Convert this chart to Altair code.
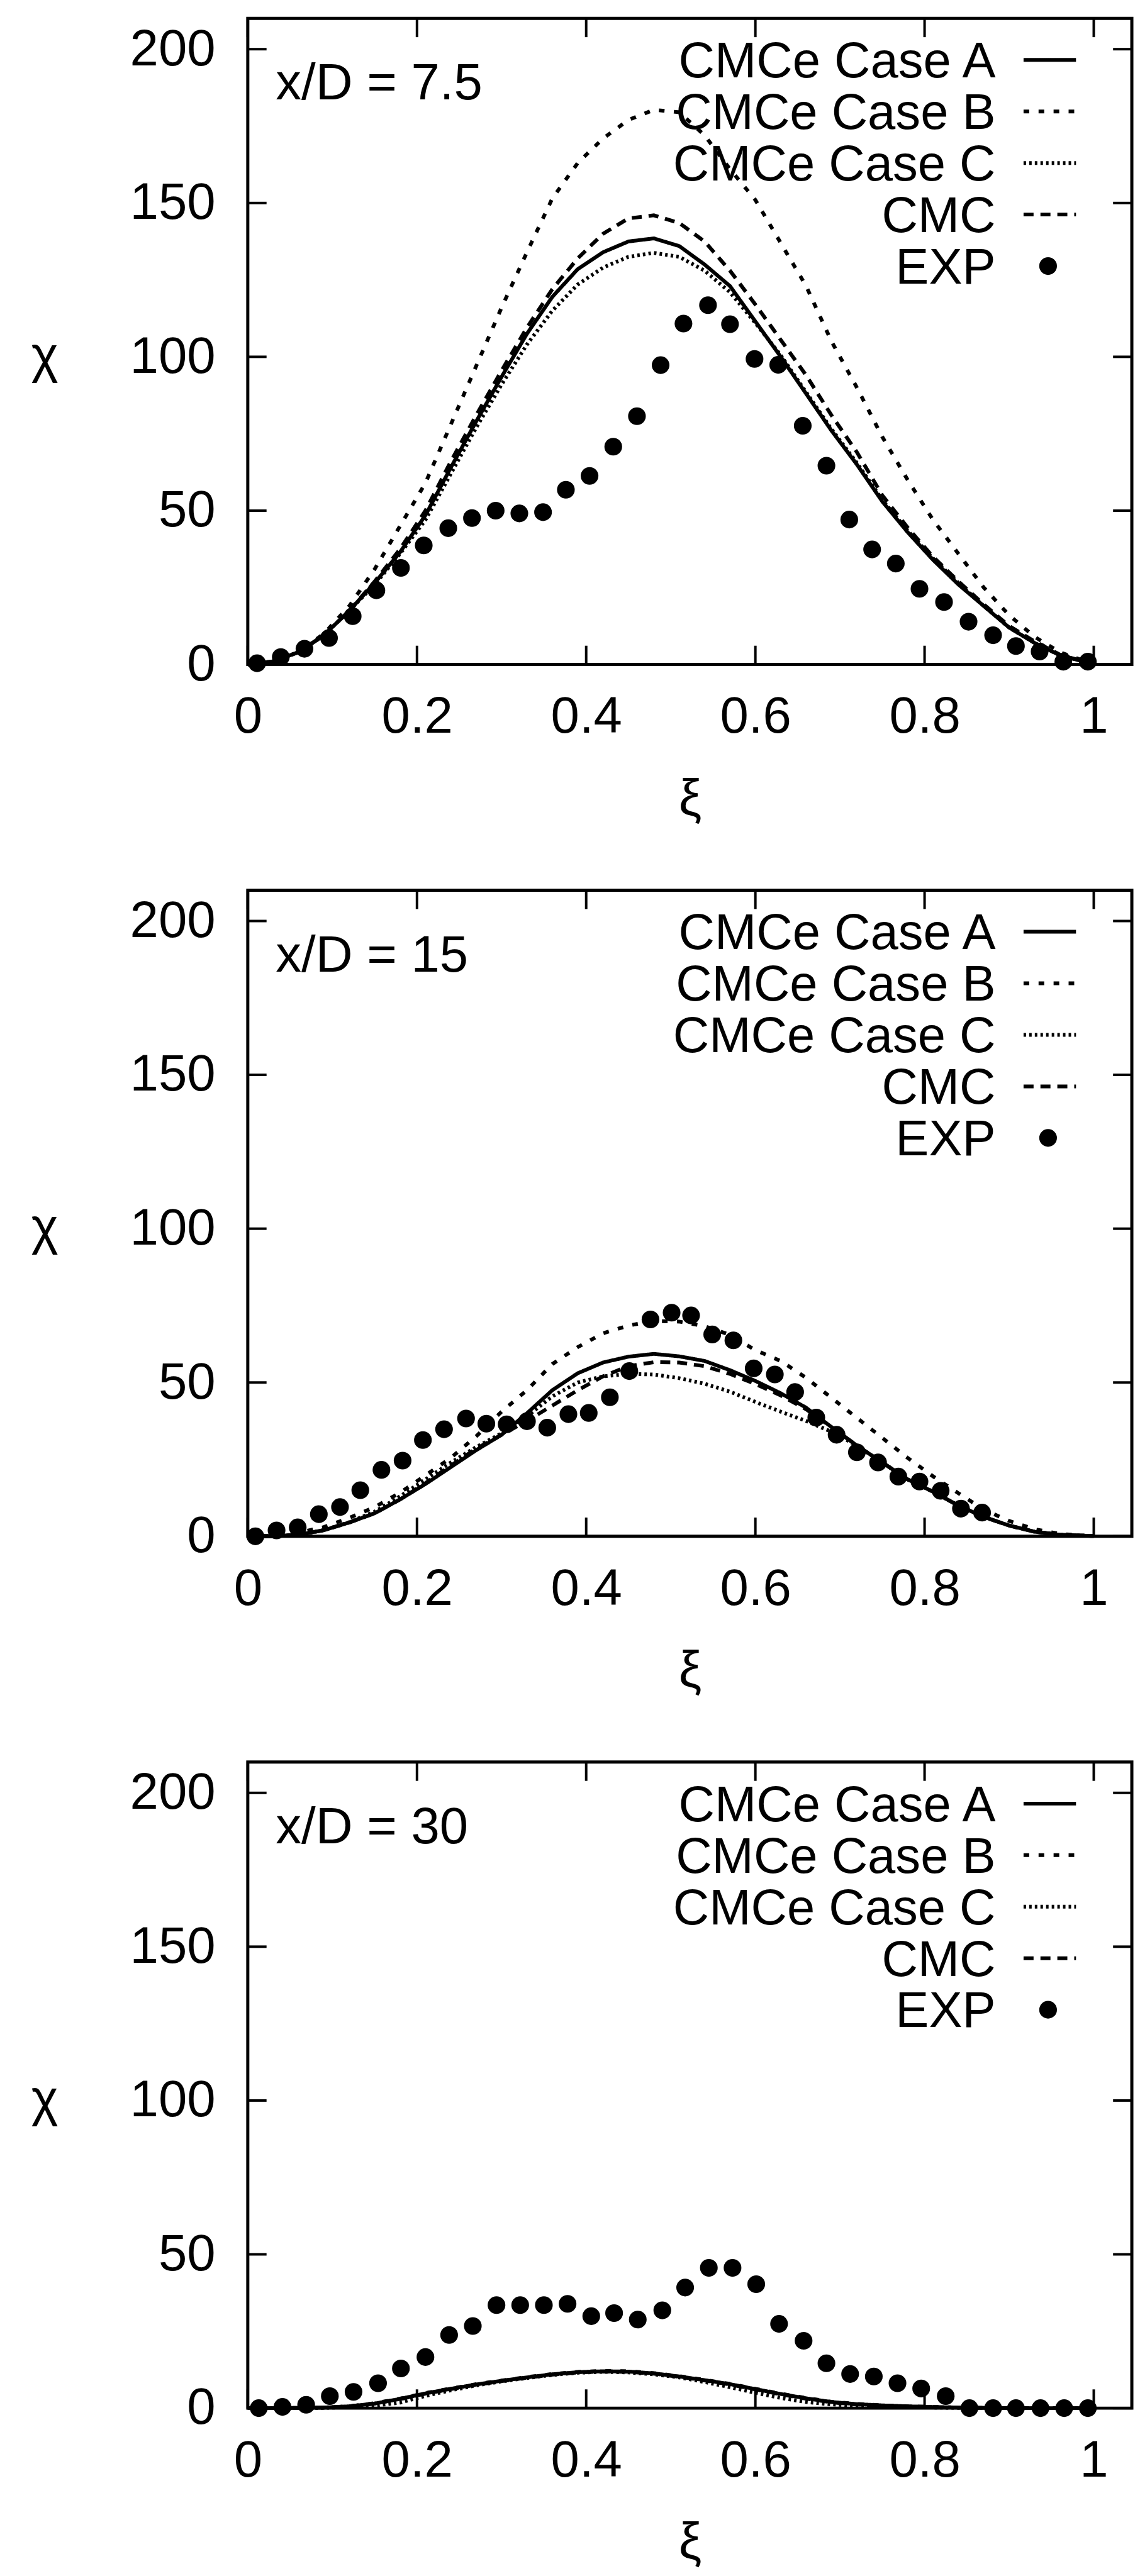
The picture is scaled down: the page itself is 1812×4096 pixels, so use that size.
import altair as alt
import pandas as pd

FONT = "Liberation Sans"
FS = 82
FS_KEY = 80

# ---------------- data ----------------
XS = [0.00, 0.03, 0.06, 0.09, 0.12, 0.15, 0.18, 0.21, 0.24, 0.27, 0.30, 0.33,
      0.36, 0.39, 0.42, 0.45, 0.48, 0.51, 0.54, 0.57, 0.60, 0.63, 0.66, 0.69,
      0.72, 0.75, 0.78, 0.81, 0.84, 0.87, 0.90, 0.93, 0.96, 0.99, 1.00]

# x/D = 7.5
A1 = [0, 1, 4, 9.5, 17.5, 26.5, 36.5, 48.5, 64, 79, 93.5, 107.5, 119.5, 128.5, 134, 137.5,
      138.5, 136, 130, 123, 111.5, 100, 88, 76, 65, 53, 43, 34, 26, 19, 12, 7, 3, 0.8, 0.5]
B1 = [0, 1, 4, 10, 19, 31, 45, 59, 78, 97, 116, 134, 151.5, 163, 171, 177, 180.3, 179.5, 172,
      161, 151, 137, 123, 105, 90, 74, 60, 47, 36, 25, 16, 9, 4, 1, 0.5]
C1 = [0, 1, 4, 9.5, 17.5, 26, 36, 47, 62, 77, 91, 104, 115, 123.5, 129, 132.5, 133.8, 132.5,
      128, 121, 111, 100.5, 88.5, 76.5, 65.5, 53.5, 43.5, 34.5, 26.5, 19, 12, 7, 3, 0.8, 0.5]
CMC1 = [0, 1, 4, 9.5, 17.5, 27, 37.5, 50, 66, 81, 95.5, 109.5, 122, 132, 140, 145, 146, 143.5,
        137.5, 128, 117, 105.5, 94, 81, 69, 55, 44.5, 35, 27, 19.5, 12.5, 7.5, 3.2, 0.8, 0.5]
EXP1_X = [0.011, 0.039, 0.067, 0.096, 0.124, 0.152, 0.181, 0.208, 0.237, 0.265, 0.293, 0.321,
          0.349, 0.376, 0.404, 0.432, 0.460, 0.488, 0.515, 0.544, 0.570, 0.599, 0.627, 0.656,
          0.684, 0.711, 0.738, 0.766, 0.794, 0.823, 0.852, 0.881, 0.908, 0.936, 0.964, 0.993]
EXP1_Y = [0.4, 2.4, 5.1, 8.6, 15.7, 24.1, 31.4, 38.7, 44.3, 47.6, 50.0, 49.1, 49.5, 56.8, 61.3,
          70.8, 80.7, 97.3, 110.8, 116.8, 110.6, 99.3, 97.4, 77.6, 64.6, 47.1, 37.4, 32.8, 24.6,
          20.3, 13.9, 9.5, 6.0, 4.2, 0.9, 0.9]

# x/D = 15
A2 = [0, 0, 0.5, 2, 4.5, 7.5, 12, 17, 22.5, 28, 33, 40, 47.5, 53, 56.5, 58.4, 59.3, 58.5, 57,
      54, 50.5, 46.5, 41.8, 35.5, 29.5, 24, 18.5, 14.5, 10, 6.3, 3.5, 1.5, 0.5, 0.2, 0.1]
B2 = [0, 0.2, 1.2, 3, 6, 9.5, 14.2, 19.8, 25.5, 32.5, 40.5, 47.5, 56, 61.5, 66, 68.5, 70, 69.8,
      68.3, 65.5, 60.5, 57, 51.5, 45, 38.5, 32, 25.5, 19.5, 14, 8.7, 5, 2.3, 0.8, 0.2, 0.1]
C2 = [0, 0, 0.5, 2, 4.6, 8, 13, 18.5, 24, 29, 33.5, 39, 45.5, 50, 52, 52.8, 52.6, 51.4, 49.6,
      47, 43.7, 40.5, 37.5, 34, 29.5, 24, 18.5, 14.5, 10, 6.3, 3.5, 1.5, 0.5, 0.2, 0.1]
CMC2 = [0, 0, 0.5, 2, 4.5, 7.5, 12, 17.3, 23, 28.5, 33, 37.5, 42.5, 47.5, 52, 55.3, 56.6, 56.5,
        55.3, 52.8, 49.5, 45.8, 41.3, 35.5, 29.5, 24, 18.5, 14.5, 10, 6.3, 3.5, 1.5, 0.5, 0.2, 0.1]
EXP2_X = [0.009, 0.034, 0.059, 0.084, 0.109, 0.133, 0.158, 0.183, 0.207, 0.232, 0.258, 0.282,
          0.306, 0.330, 0.354, 0.379, 0.403, 0.428, 0.451, 0.476, 0.501, 0.524, 0.549, 0.574,
          0.598, 0.623, 0.647, 0.672, 0.696, 0.720, 0.745, 0.769, 0.794, 0.819, 0.843, 0.868]
EXP2_Y = [0, 1.9, 2.9, 7.2, 9.5, 15, 21.6, 24.6, 31.3, 34.8, 38.3, 36.6, 36.4, 37.4, 35.3, 39.7,
          40.1, 45.2, 53.7, 70.5, 72.7, 71.8, 65.6, 63.7, 54.6, 52.6, 46.9, 38.6, 33, 27.3, 24,
          19.4, 17.8, 14.8, 9, 7.7]

# x/D = 30
A3 = [0, 0, 0.1, 0.2, 0.6, 1.5, 3, 4.8, 6.3, 7.7, 8.9, 10, 11, 11.7, 12, 11.9, 11.3, 10.3, 9.1,
      7.8, 6.2, 4.6, 3.2, 2, 1.3, 0.9, 0.6, 0.4, 0.2, 0.1, 0, 0, 0, 0, 0]
B3 = [0, 0, 0.1, 0.2, 0.6, 1.6, 3.1, 4.9, 6.4, 7.8, 9, 10.1, 11.1, 11.8, 12.1, 12, 11.4, 10.4,
      9.2, 7.9, 6.3, 4.7, 3.3, 2.1, 1.4, 0.9, 0.6, 0.4, 0.2, 0.1, 0, 0, 0, 0, 0]
C3 = [0, 0, 0.05, 0.1, 0.3, 0.8, 1.8, 4, 5.8, 7.4, 8.7, 9.8, 10.8, 11.5, 11.8, 11.6, 11, 10,
      8.5, 6.8, 5, 3.3, 2, 1.2, 0.8, 0.5, 0.3, 0.2, 0.1, 0, 0, 0, 0, 0, 0]
CMC3 = [0, 0, 0.1, 0.2, 0.6, 1.5, 3, 4.7, 6.2, 7.6, 8.8, 9.9, 10.9, 11.6, 11.9, 11.8, 11.2, 10.2,
        9, 7.7, 6.1, 4.5, 3.1, 1.9, 1.2, 0.8, 0.5, 0.3, 0.2, 0.1, 0, 0, 0, 0, 0]
EXP3_X = [0.013, 0.041, 0.069, 0.097, 0.125, 0.154, 0.181, 0.210, 0.238, 0.266, 0.294, 0.322,
          0.350, 0.378, 0.406, 0.433, 0.461, 0.490, 0.517, 0.545, 0.573, 0.601, 0.628, 0.657,
          0.684, 0.712, 0.740, 0.768, 0.796, 0.825, 0.853, 0.881, 0.908, 0.937, 0.965, 0.993]
EXP3_Y = [0, 0.4, 1.1, 3.9, 5.3, 8.1, 12.9, 16.6, 23.8, 26.7, 33.5, 33.5, 33.5, 33.9, 29.9,
          30.9, 28.8, 31.8, 39.2, 45.6, 45.6, 40.3, 27.4, 21.9, 14.6, 11.1, 10.3, 8.1, 6.4, 3.9,
          0, 0, 0, 0, 0, 0]

PANEL_LABELS = ["x/D = 7.5", "x/D = 15", "x/D = 30"]
SERIES = ["CMCe Case A", "CMCe Case B", "CMCe Case C", "CMC"]
EXP_NAME = "EXP"
X_TICKS = [0, 0.2, 0.4, 0.6, 0.8, 1.0]
Y_TICKS = [0, 50, 100, 150, 200]

# ---------------- style ----------------
X_MAX = 1.045
Y_MAX = 210
W, H = 1413, 1033
DASHES = [[1, 0], [9, 15], [4, 5], [16, 11]]
WIDTHS = [6.0, 6.0, 4.0, 5.0]
LEG_ROWS = [196.5, 179.75, 163.0, 146.25, 129.5]
LEG_TEXT_X = 0.884
LEG_LINE_X = (0.917, 0.979)
LEG_DOT_X = 0.946
LABEL_POS = (0.033, 189.5)
TICK_LEN = 30          # pixels, drawn inward
TLX = TICK_LEN * X_MAX / W
TLY = TICK_LEN * Y_MAX / H
DOT_SIZE = 800

xscale = alt.Scale(domain=[0, X_MAX], nice=False, zero=False)
yscale = alt.Scale(domain=[0, Y_MAX], nice=False, zero=False)
dash_scale = alt.Scale(domain=SERIES, range=DASHES)
width_scale = alt.Scale(domain=SERIES, range=WIDTHS)

xaxis = alt.Axis(values=X_TICKS, format="~g", ticks=False, tickSize=0, domain=False, grid=False,
                 labelFont=FONT, labelFontSize=FS, labelColor="black", labelPadding=44,
                 labelFlush=False, labelOverlap=False,
                 title="ξ", titleFont=FONT, titleFontSize=FS, titleFontWeight="normal",
                 titleColor="black", titleY=215, titleBaseline="middle")
yaxis = alt.Axis(values=Y_TICKS, ticks=False, tickSize=0, domain=False, grid=False,
                 labelFont=FONT, labelFontSize=FS, labelColor="black", labelPadding=52,
                 labelFlush=False, labelOverlap=False,
                 title="χ", titleFont=FONT, titleFontSize=FS, titleFontWeight="normal",
                 titleColor="black", titleAngle=0, titleX=-325, titleY=540,
                 titleAlign="center", titleBaseline="middle")


def panel(label, curves, ex, ey):
    rows = []
    for name, ys in zip(SERIES, curves):
        for x, y in zip(XS, ys):
            rows.append({"x": x, "y": y, "series": name})
    lines_df = pd.DataFrame(rows)
    exp_df = pd.DataFrame({"x": ex, "y": ey})

    lines = alt.Chart(lines_df).mark_line(color="black", strokeCap="butt").encode(
        x=alt.X("x:Q", scale=xscale, axis=xaxis),
        y=alt.Y("y:Q", scale=yscale, axis=yaxis),
        strokeDash=alt.StrokeDash("series:N", scale=dash_scale, legend=None),
        strokeWidth=alt.StrokeWidth("series:N", scale=width_scale, legend=None),
        detail="series:N",
        order=alt.Order("x:Q"),
    )
    pts = alt.Chart(exp_df).mark_point(filled=True, color="black", size=DOT_SIZE, opacity=1,
                                       shape="circle").encode(x="x:Q", y="y:Q")

    # inward tick marks on all four sides (gnuplot style)
    xt = pd.DataFrame({"t": X_TICKS, "b0": 0.0, "b1": TLY,
                       "u0": Y_MAX - TLY, "u1": float(Y_MAX)})
    yt = pd.DataFrame({"t": Y_TICKS, "l0": 0.0, "l1": TLX,
                       "r0": X_MAX - TLX, "r1": X_MAX})
    rk = dict(color="black", strokeWidth=4)
    t_bottom = alt.Chart(xt).mark_rule(**rk).encode(x="t:Q", y="b0:Q", y2="b1:Q")
    t_top = alt.Chart(xt).mark_rule(**rk).encode(x="t:Q", y="u0:Q", y2="u1:Q")
    t_left = alt.Chart(yt).mark_rule(**rk).encode(y="t:Q", x="l0:Q", x2="l1:Q")
    t_right = alt.Chart(yt).mark_rule(**rk).encode(y="t:Q", x="r0:Q", x2="r1:Q")

    # key (gnuplot style: text right-aligned, sample on the right)
    leg_df = pd.DataFrame({"name": SERIES + [EXP_NAME], "ly": LEG_ROWS,
                           "lx": [LEG_TEXT_X] * 5})
    leg_text = alt.Chart(leg_df).mark_text(align="right", baseline="middle", font=FONT,
                                           fontSize=FS_KEY, color="black", dy=4).encode(
        x="lx:Q", y="ly:Q", text="name:N")
    seg_df = pd.DataFrame({"series": SERIES, "ly": LEG_ROWS[:4],
                           "x1": [LEG_LINE_X[0]] * 4, "x2": [LEG_LINE_X[1]] * 4})
    leg_lines = alt.Chart(seg_df).mark_rule(color="black", strokeCap="butt").encode(
        x="x1:Q", x2="x2:Q", y="ly:Q",
        strokeDash=alt.StrokeDash("series:N", scale=dash_scale, legend=None),
        strokeWidth=alt.StrokeWidth("series:N", scale=width_scale, legend=None))
    dot_df = pd.DataFrame({"lx": [LEG_DOT_X], "ly": [LEG_ROWS[4]]})
    leg_dot = alt.Chart(dot_df).mark_point(filled=True, color="black", size=DOT_SIZE, opacity=1,
                                           shape="circle").encode(x="lx:Q", y="ly:Q")

    lab_df = pd.DataFrame({"t": [label], "lx": [LABEL_POS[0]], "ly": [LABEL_POS[1]]})
    lab = alt.Chart(lab_df).mark_text(align="left", baseline="middle", font=FONT, fontSize=FS,
                                      color="black", dy=4).encode(x="lx:Q", y="ly:Q", text="t:N")

    return alt.layer(lines, pts, t_bottom, t_top, t_left, t_right,
                     leg_text, leg_lines, leg_dot, lab).properties(width=W, height=H)


p1 = panel(PANEL_LABELS[0], [A1, B1, C1, CMC1], EXP1_X, EXP1_Y)
p2 = panel(PANEL_LABELS[1], [A2, B2, C2, CMC2], EXP2_X, EXP2_Y)
p3 = panel(PANEL_LABELS[2], [A3, B3, C3, CMC3], EXP3_X, EXP3_Y)

chart = alt.vconcat(p1, p2, p3, spacing=97).properties(
    padding={"left": 38, "top": 5, "right": 0, "bottom": 5},
    background="white",
).configure_view(stroke="black", strokeWidth=5).configure_concat(spacing=97)

chart.save("out.html", embed_options={"renderer": "svg", "actions": False})
